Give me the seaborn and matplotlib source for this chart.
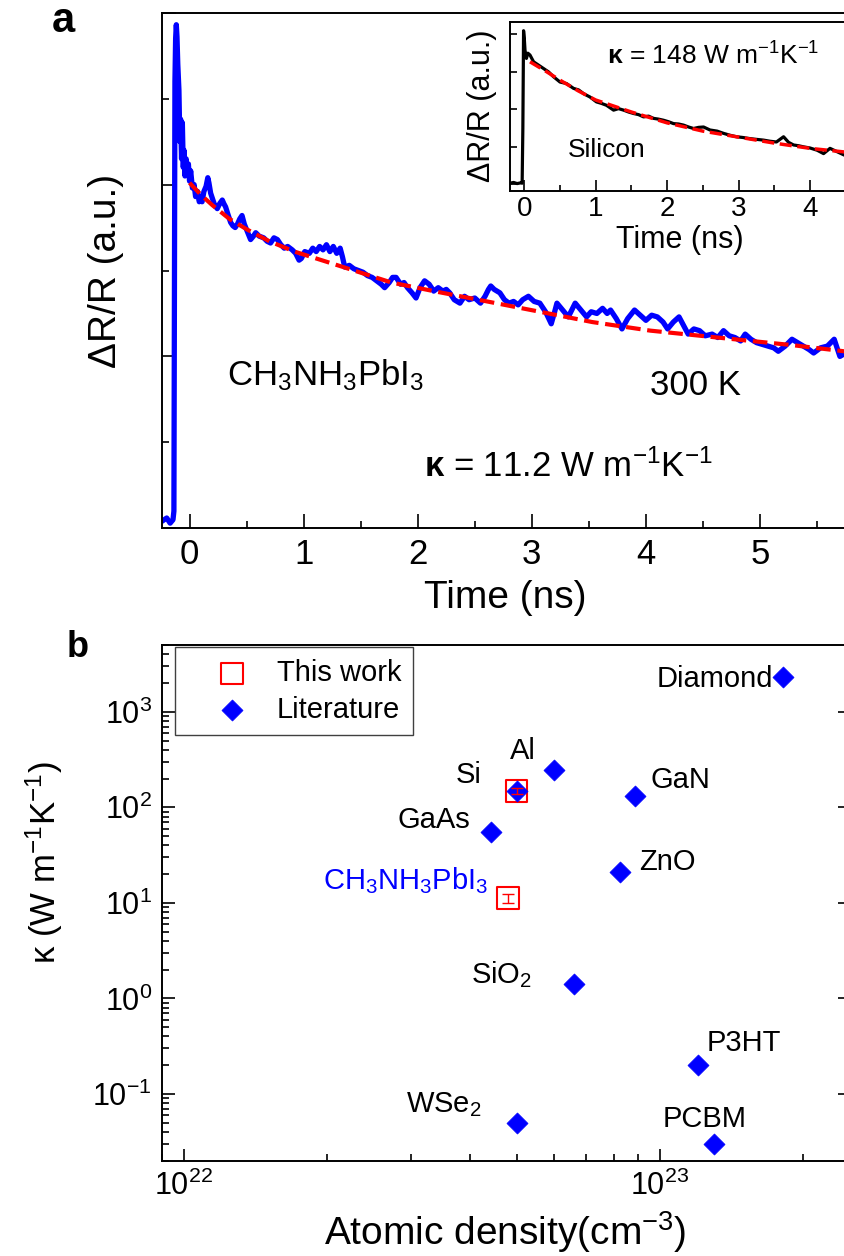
import matplotlib
matplotlib.use("Agg")
import matplotlib.pyplot as plt
from matplotlib.ticker import MultipleLocator, LogLocator, NullFormatter
import seaborn as sns

# -----------------------------------
# Panel a: CH3NH3PbI3 transient
# -----------------------------------
trace_t = [-0.244, -0.20, -0.17, -0.145, -0.137, -0.133, -0.128, -0.122, -0.116, -0.110,
           -0.103, -0.093, -0.085, -0.078, -0.070, -0.063, -0.055, -0.049, -0.040, -0.030,
           -0.019, -0.010, 0.0, 0.01, 0.025, 0.04, 0.053, 0.07, 0.085, 0.097,
           0.11, 0.126, 0.145, 0.16, 0.17, 0.185, 0.20, 0.22, 0.243, 0.265,
           0.287, 0.30, 0.316, 0.335, 0.36, 0.38, 0.40, 0.42, 0.44, 0.46,
           0.48, 0.51, 0.535, 0.56, 0.58, 0.61, 0.65, 0.68, 0.71, 0.74,
           0.77, 0.80, 0.83, 0.86, 0.90, 0.93, 0.96, 0.98, 1.01, 1.05,
           1.08, 1.11, 1.14, 1.17, 1.20, 1.23, 1.26, 1.29, 1.32, 1.34,
           1.36, 1.40, 1.44, 1.48, 1.52, 1.56, 1.60, 1.64, 1.68, 1.71,
           1.75, 1.78, 1.81, 1.85, 1.88, 1.91, 1.95, 1.985, 2.02, 2.06,
           2.10, 2.14, 2.18, 2.22, 2.25, 2.28, 2.32, 2.37, 2.41, 2.45,
           2.50, 2.55, 2.59, 2.62, 2.64, 2.67, 2.72, 2.76, 2.80, 2.84,
           2.88, 2.92, 2.97, 3.02, 3.07, 3.12, 3.17, 3.20, 3.22, 3.27,
           3.32, 3.35, 3.38, 3.43, 3.48, 3.52, 3.57, 3.62, 3.66, 3.69,
           3.74, 3.79, 3.84, 3.90, 3.95, 4.00, 4.05, 4.10, 4.15, 4.19,
           4.24, 4.29, 4.33, 4.37, 4.42, 4.47, 4.52, 4.58, 4.63, 4.68,
           4.73, 4.78, 4.83, 4.87, 4.92, 4.97, 5.02, 5.07, 5.12, 5.16,
           5.22, 5.28, 5.33, 5.38, 5.43, 5.47, 5.53, 5.59, 5.65, 5.70,
           5.75, 5.79]
trace_y = [0.04, 0.06, 0.03, 0.05, 0.10, 1.20, 2.60, 2.85, 2.93, 2.86,
           2.70, 2.55, 2.25, 2.38, 2.15, 2.36, 2.10, 2.20, 2.05, 2.15,
           2.06, 2.12, 2.02, 2.08, 1.98, 2.00, 1.93, 1.96, 1.90, 1.92,
           1.90, 1.96, 1.99, 2.04, 2.01, 1.95, 1.92, 1.88, 1.86, 1.89,
           1.91, 1.89, 1.87, 1.83, 1.78, 1.76, 1.75, 1.77, 1.80, 1.82,
           1.77, 1.72, 1.68, 1.70, 1.72, 1.70, 1.69, 1.67, 1.66, 1.69,
           1.68, 1.65, 1.63, 1.64, 1.62, 1.60, 1.56, 1.57, 1.61, 1.60,
           1.63, 1.61, 1.64, 1.62, 1.65, 1.61, 1.64, 1.60, 1.63, 1.58,
           1.52, 1.53, 1.51, 1.50, 1.49, 1.47, 1.46, 1.44, 1.42, 1.40,
           1.43, 1.46, 1.46, 1.42, 1.43, 1.40, 1.37, 1.34, 1.40, 1.44,
           1.42, 1.38, 1.40, 1.38, 1.39, 1.37, 1.33, 1.31, 1.35, 1.33,
           1.34, 1.31, 1.35, 1.39, 1.41, 1.39, 1.37, 1.33, 1.31, 1.32,
           1.30, 1.33, 1.35, 1.32, 1.31, 1.26, 1.19, 1.26, 1.31, 1.27,
           1.23, 1.27, 1.31, 1.27, 1.23, 1.26, 1.25, 1.28, 1.25, 1.27,
           1.22, 1.16, 1.22, 1.27, 1.24, 1.21, 1.24, 1.23, 1.20, 1.16,
           1.20, 1.23, 1.18, 1.13, 1.16, 1.15, 1.12, 1.13, 1.11, 1.15,
           1.12, 1.11, 1.09, 1.13, 1.10, 1.08, 1.07, 1.06, 1.05, 1.03,
           1.06, 1.10, 1.08, 1.06, 1.04, 1.02, 1.05, 1.06, 1.10, 1.00,
           1.02, 1.01]

fit_t = [0.0, 0.1, 0.2, 0.35, 0.5, 0.7, 0.92, 1.3, 1.77, 2.14, 2.53, 3.07,
         3.53, 4.04, 4.7, 5.28, 5.8]
fit_y = [2.01, 1.94, 1.88, 1.80, 1.74, 1.67, 1.61, 1.53, 1.43, 1.38, 1.33, 1.26,
         1.20, 1.15, 1.105, 1.066, 1.025]

# inset: silicon reference
si_t = [-0.2, -0.15, -0.1, -0.05, -0.03, -0.02, -0.01, 0.0, 0.01, 0.03,
        0.05, 0.08, 0.13, 0.2, 0.27, 0.34, 0.41, 0.5, 0.59, 0.69,
        0.76, 0.83, 0.92, 1.01, 1.08, 1.15, 1.25, 1.32, 1.39, 1.46,
        1.53, 1.6, 1.67, 1.74, 1.81, 1.88, 1.95, 2.02, 2.09, 2.16,
        2.23, 2.3, 2.37, 2.44, 2.51, 2.6, 2.7, 2.79, 2.88, 2.97,
        3.06, 3.16, 3.25, 3.35, 3.44, 3.53, 3.58, 3.63, 3.7, 3.77,
        3.84, 3.91, 4.0, 4.1, 4.19, 4.28, 4.38, 4.48, 4.6]
si_y = [0.03, 0.05, 0.02, 0.04, 0.03, 1.5, 4.1, 3.9, 3.58, 3.36,
        3.5, 3.45, 3.27, 3.18, 3.09, 3.0, 2.87, 2.73, 2.69, 2.56,
        2.52, 2.42, 2.33, 2.2, 2.16, 2.11, 1.98, 2.02, 1.98, 1.93,
        1.89, 1.86, 1.8, 1.82, 1.76, 1.74, 1.71, 1.67, 1.62, 1.61,
        1.58, 1.53, 1.49, 1.52, 1.53, 1.45, 1.42, 1.36, 1.31, 1.27,
        1.25, 1.22, 1.2, 1.18, 1.15, 1.13, 1.2, 1.27, 1.12, 1.05,
        1.03, 1.0, 0.97, 0.91, 0.82, 0.96, 0.87, 0.78, 0.84]
si_fit_t = [0.08, 0.3, 0.5, 0.75, 1.0, 1.5, 2.0, 2.5, 3.0, 3.5, 4.0, 4.6]
si_fit_y = [3.27, 3.02, 2.78, 2.50, 2.25, 1.93, 1.64, 1.42, 1.26, 1.10, 0.96, 0.84]

# -----------------------------------
# Panel b: kappa vs atomic density
# -----------------------------------
lit_names = ["Diamond", "Al", "Si", "GaN", "GaAs", "ZnO", "SiO$_2$", "P3HT", "PCBM", "WSe$_2$"]
lit_density = [1.81e23, 6.0e22, 5.0e22, 8.85e22, 4.42e22, 8.25e22, 6.6e22, 1.2e23, 1.3e23, 5.0e22]
lit_kappa = [2300, 245, 148, 130, 55, 21, 1.4, 0.2, 0.03, 0.05]

work_density = [5.0e22, 4.8e22]
work_kappa = [148, 11.2]
work_err = [10, 1.2]

# label offsets in points (dx, dy, ha)
label_pos = {
    "Diamond": (-7, -6.7, "right"),
    "Al": (-32, 8, "left"),
    "Si": (-25, 6, "right"),
    "GaN": (11.5, 6.3, "left"),
    "GaAs": (-15, 2.7, "right"),
    "ZnO": (13.5, 1.7, "left"),
    "SiO$_2$": (-30.5, 1.2, "right"),
    "P3HT": (6.7, 9.9, "left"),
    "PCBM": (-7.2, 12.2, "center"),
    "WSe$_2$": (-25, 7.2, "right"),
}

sns.set_style("ticks")
plt.rcParams.update({
    "font.family": ["Liberation Sans", "DejaVu Sans"],
    "mathtext.fontset": "custom",
    "mathtext.rm": "Liberation Sans",
    "mathtext.it": "Liberation Sans:italic",
    "mathtext.bf": "Liberation Sans:bold",
    "mathtext.default": "regular",
    "text.color": "black",
    "axes.labelcolor": "black",
    "axes.linewidth": 1.4,
    "axes.edgecolor": "black",
    "xtick.direction": "in",
    "ytick.direction": "in",
    "xtick.major.size": 9,
    "ytick.major.size": 9,
    "xtick.minor.size": 5,
    "ytick.minor.size": 5,
    "xtick.major.width": 1.2,
    "ytick.major.width": 1.2,
    "xtick.minor.width": 1.2,
    "ytick.minor.width": 1.2,
    "xtick.color": "black",
    "ytick.color": "black",
    "xtick.labelcolor": "black",
    "ytick.labelcolor": "black",
})

fig = plt.figure(figsize=(8.44, 12.56), dpi=100)
W, H = 844.0, 1256.0

# ---------------- panel a ----------------
ax = fig.add_axes([161.7 / W, 1 - 528.3 / H, 687.9 / W, 515.6 / H])
sns.lineplot(x=trace_t, y=trace_y, ax=ax, color="blue", lw=3.8,
             sort=False, estimator=None)
sns.lineplot(x=fit_t, y=fit_y, ax=ax, color="red", lw=3,
             linestyle=(0, (3.5, 1.6)), sort=False, estimator=None)
ax.set_xlim(-0.244, 5.785)
ax.set_ylim(0, 3)
ax.xaxis.set_major_locator(MultipleLocator(1))
ax.xaxis.set_minor_locator(MultipleLocator(0.5))
ax.yaxis.set_major_locator(MultipleLocator(1))
ax.yaxis.set_minor_locator(MultipleLocator(0.5))
ax.tick_params(axis="y", which="both", labelleft=False)
ax.tick_params(axis="x", which="major", labelsize=25, pad=7)
ax.tick_params(which="major", length=10)
ax.tick_params(which="minor", length=5)
ax.set_xlabel("Time (ns)", fontsize=28)
ax.xaxis.set_label_coords(0.5, -0.100)
ax.set_ylabel("\u0394R/R (a.u.)", fontsize=28)
ax.yaxis.set_label_coords(-0.055, 0.5)
ax.text(0.095, 0.278, "CH$_3$NH$_3$PbI$_3$", transform=ax.transAxes,
        fontsize=25, va="baseline", ha="left")
ax.text(0.71, 0.2585, "300 K", transform=ax.transAxes,
        fontsize=25, va="baseline", ha="left")
ax.text(0.381, 0.10, r"$\mathbf{\kappa}$ = 11.2 W m$^{-1}$K$^{-1}$",
        transform=ax.transAxes, fontsize=25, va="baseline", ha="left")

# ---------------- inset ----------------
axi = fig.add_axes([510 / W, 1 - 190.7 / H, 345 / W, 169 / H])
axi.set_facecolor("white")
sns.lineplot(x=si_t, y=si_y, ax=axi, color="black", lw=2.3,
             sort=False, estimator=None)
sns.lineplot(x=si_fit_t, y=si_fit_y, ax=axi, color="red", lw=2.5,
             linestyle=(0, (3.5, 1.6)), sort=False, estimator=None)
axi.set_xlim(-0.2, 4.63)
axi.set_ylim(-0.17, 4.34)
axi.xaxis.set_major_locator(MultipleLocator(1))
axi.xaxis.set_minor_locator(MultipleLocator(0.5))
axi.yaxis.set_major_locator(MultipleLocator(1))
axi.tick_params(axis="y", which="both", labelleft=False, length=5)
axi.tick_params(axis="x", which="major", labelsize=20, pad=4, length=8)
axi.tick_params(axis="x", which="minor", length=4)
axi.set_xlabel("Time (ns)", fontsize=22)
axi.xaxis.set_label_coords(0.493, -0.205)
axi.set_ylabel("\u0394R/R (a.u.)", fontsize=22)
axi.yaxis.set_label_coords(-0.038, 0.5)
axi.text(0.281, 0.744, r"$\mathbf{\kappa}$ = 148 W m$^{-1}$K$^{-1}$",
         transform=axi.transAxes, fontsize=19, va="baseline", ha="left")
axi.text(0.168, 0.199, "Silicon", transform=axi.transAxes,
         fontsize=19, va="baseline", ha="left")

# ---------------- panel b ----------------
bx = fig.add_axes([161.7 / W, 1 - 1160.7 / H, 687.9 / W, 515.7 / H])
sns.scatterplot(x=work_density, y=work_kappa, ax=bx, marker="s", s=240,
                facecolor="none", edgecolor="red", linewidth=1.5,
                label="This work", zorder=2)
sns.scatterplot(x=lit_density, y=lit_kappa, ax=bx, marker="D", s=115,
                color="blue", edgecolor="blue", linewidth=0.5,
                label="Literature", zorder=3)
bx.errorbar(work_density, work_kappa, yerr=work_err, fmt="none",
            ecolor="red", elinewidth=1.0, capsize=4, capthick=1.0, zorder=5)
bx.set_xscale("log")
bx.set_yscale("log")
bx.set_xlim(9.0e21, 2.5e23)
bx.set_ylim(0.02, 5000)
bx.xaxis.set_major_locator(LogLocator(base=10))
bx.xaxis.set_minor_locator(LogLocator(base=10, subs=range(2, 10)))
bx.xaxis.set_minor_formatter(NullFormatter())
bx.yaxis.set_major_locator(LogLocator(base=10))
bx.yaxis.set_minor_locator(LogLocator(base=10, subs=range(2, 10), numticks=20))
bx.yaxis.set_minor_formatter(NullFormatter())
bx.tick_params(which="major", labelsize=22, length=9, pad=7)
bx.tick_params(which="minor", length=5)
bx.tick_params(axis="y", which="major", right=True)
bx.tick_params(axis="y", which="minor", right=False)

for name, xd, yd in zip(lit_names, lit_density, lit_kappa):
    dx, dy, ha = label_pos[name]
    bx.annotate(name, (xd, yd), xytext=(dx, dy), textcoords="offset points",
                fontsize=21, ha=ha, va="baseline", color="black")
bx.annotate("CH$_3$NH$_3$PbI$_3$", (work_density[1], work_kappa[1]),
            xytext=(-14.4, 6.3), textcoords="offset points",
            fontsize=21, ha="right", va="baseline", color="blue")

bx.set_xlabel("Atomic density(cm$^{-3}$)", fontsize=28)
bx.xaxis.set_label_coords(0.5, -0.094)
bx.set_ylabel("\u03ba (W m$^{-1}$K$^{-1}$)", fontsize=25)
bx.yaxis.set_label_coords(-0.141, 0.577)

leg = bx.legend(loc="upper left", bbox_to_anchor=(0.0193, 0.9955),
                borderaxespad=0, fontsize=21, frameon=True, fancybox=False,
                framealpha=1, edgecolor="0.25", borderpad=0.4,
                handlelength=3.1, handletextpad=0.0, labelspacing=0.3)
leg.get_frame().set_linewidth(1.0)
for t in leg.get_texts():
    t.set_color("black")

fig.text(52 / W, 1 - 32 / H, "a", fontsize=30, fontweight="bold", va="baseline")
fig.text(67 / W, 1 - 657 / H, "b", fontsize=26, fontweight="bold", va="baseline")

fig.savefig("out.png", dpi=100)
